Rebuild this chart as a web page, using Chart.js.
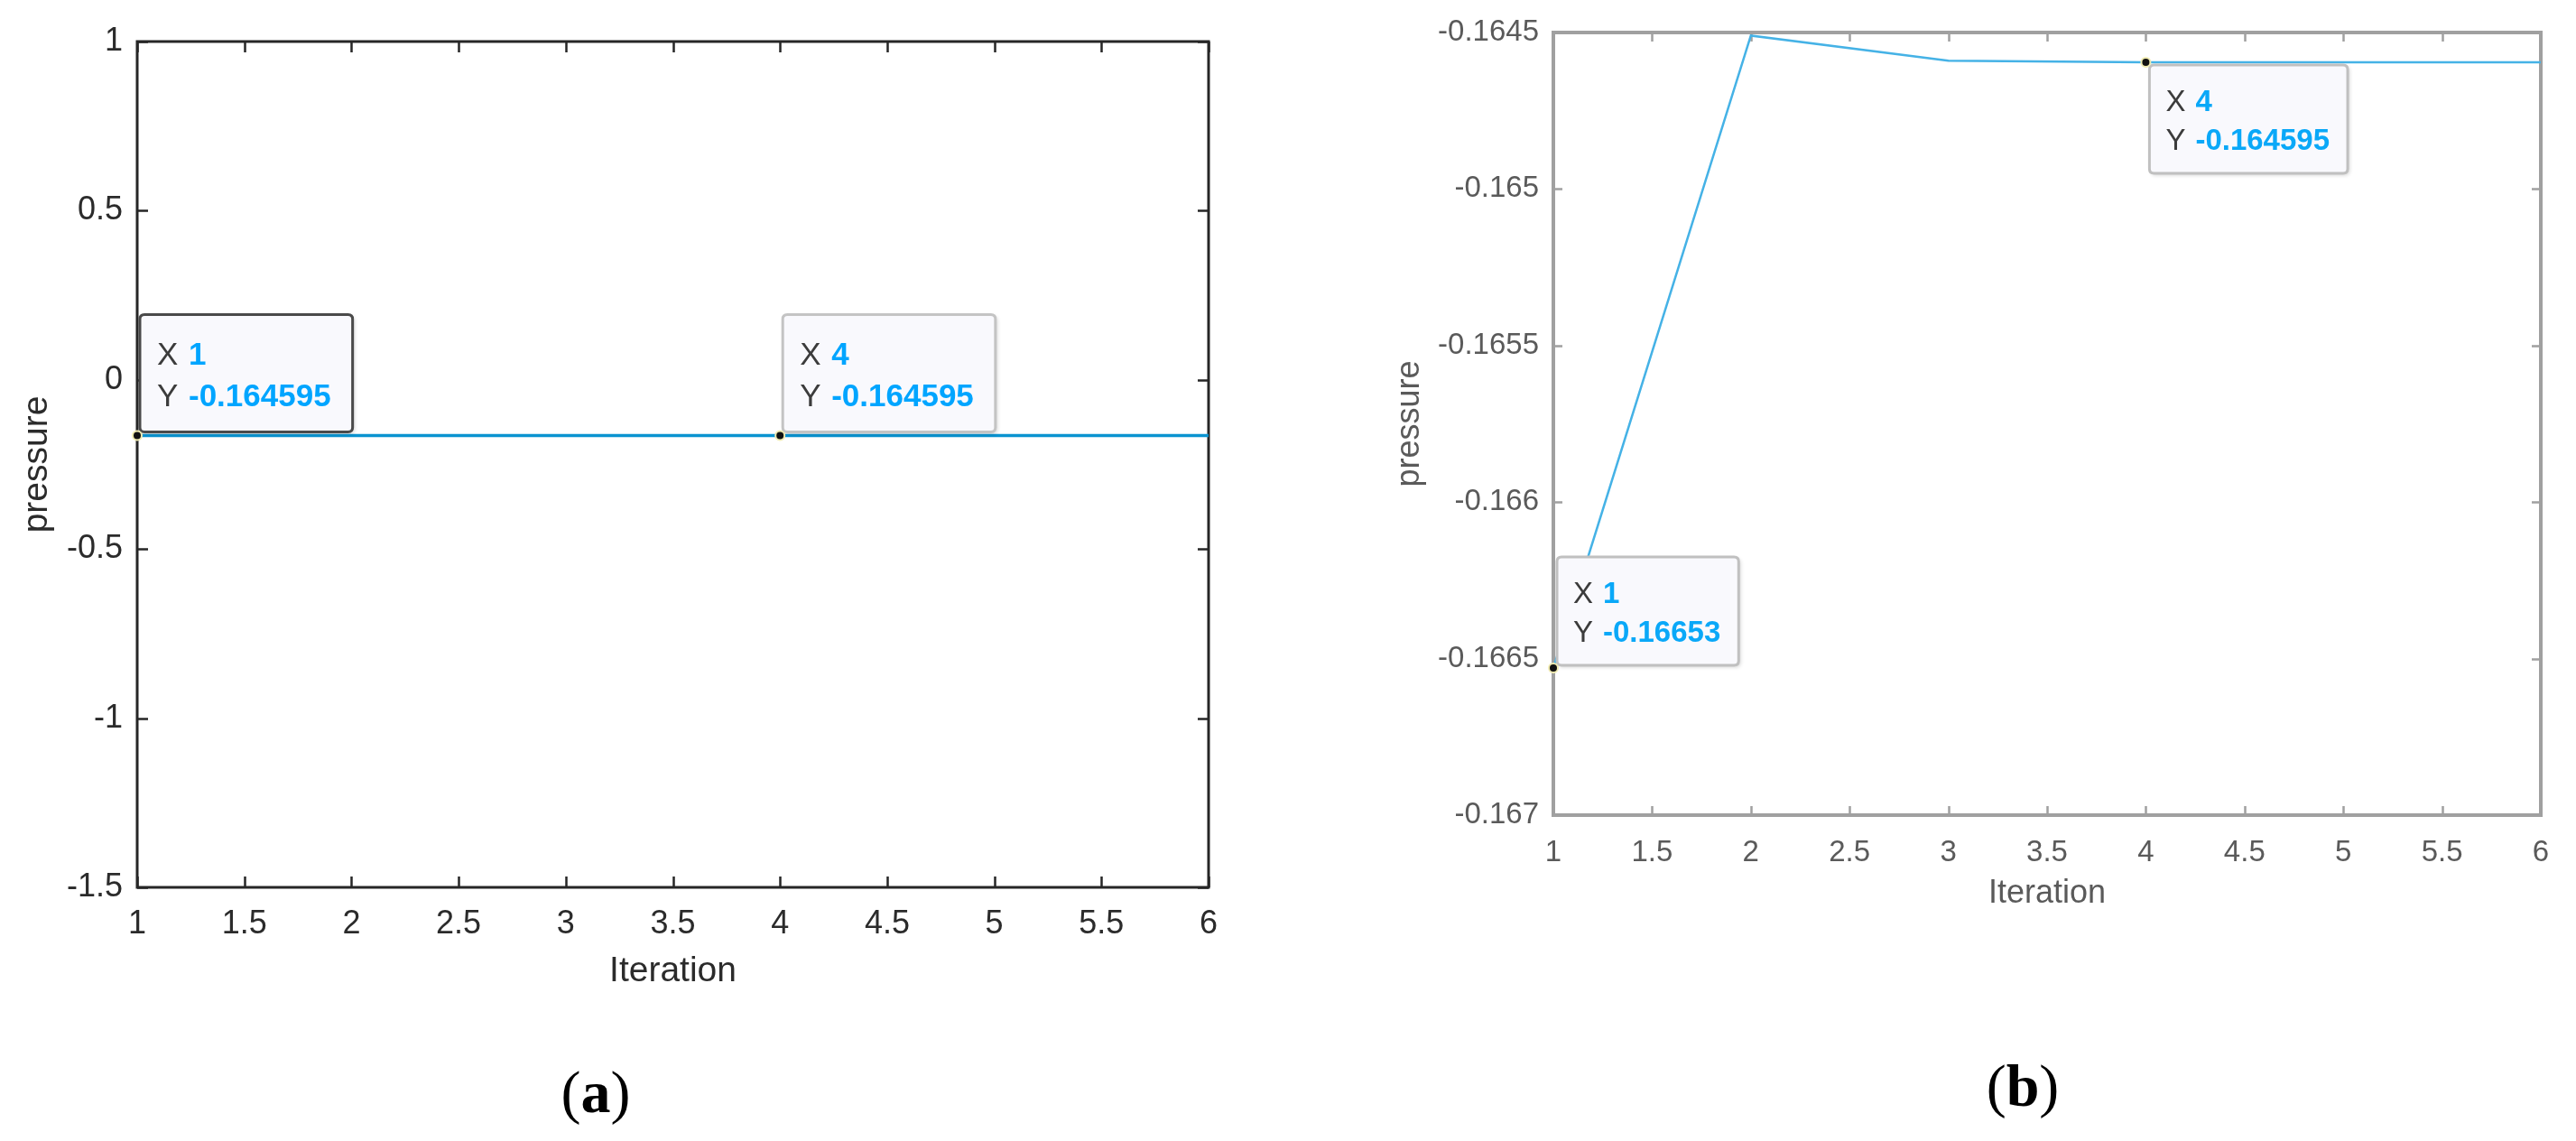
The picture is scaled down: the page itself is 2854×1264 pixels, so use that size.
<!DOCTYPE html>
<html><head><meta charset="utf-8">
<script src="https://cdn.jsdelivr.net/npm/chart.js@4.4.1/dist/chart.umd.min.js"></script>
<style>
html,body{margin:0;padding:0;background:#fff;width:2854px;height:1264px;overflow:hidden;position:relative}
canvas{position:absolute}
#ca{left:0;top:0}
#cb{left:1460px;top:0}
.lab{position:absolute;font-family:'Liberation Serif','DejaVu Serif',serif;font-size:66px;color:#000;transform:translate(-50%,-50%);white-space:nowrap;line-height:1}
.lab b{font-weight:bold}
</style></head><body>
<canvas id="ca" width="1420" height="1110"></canvas>
<canvas id="cb" width="1394" height="1030"></canvas>
<div class="lab" style="left:660px;top:1210px">(<b>a</b>)</div>
<div class="lab" style="left:2241px;top:1203px">(<b>b</b>)</div>
<script>
// ---- data ----
const iterations = [1, 2, 3, 4, 5, 6];
const pressureA = [-0.164595, -0.164595, -0.164595, -0.164595, -0.164595, -0.164595];
const pressureB = [-0.16653, -0.16451, -0.16459, -0.164595, -0.164595, -0.164595];
const xTicks = [1, 1.5, 2, 2.5, 3, 3.5, 4, 4.5, 5, 5.5, 6];
const yTicksA = [-1.5, -1, -0.5, 0, 0.5, 1];
const yTicksB = [-0.167, -0.1665, -0.166, -0.1655, -0.165, -0.1645];
const tipIndicesA = [0, 3];
const tipIndicesB = [0, 3];
const xTitle = 'Iteration';
const yTitle = 'pressure';

const FONT = "'Liberation Sans', Arial, Helvetica, sans-serif";
Chart.defaults.font.family = FONT;

const framePlugin = {
  id: 'frame',
  beforeDatasetsDraw(chart, args, o) {
    const {ctx, chartArea: a, scales: {x, y}} = chart;
    ctx.save();
    ctx.strokeStyle = o.color;
    ctx.lineWidth = o.tickWidth;
    ctx.beginPath();
    x.ticks.forEach(t => {
      const px = Math.round(x.getPixelForValue(t.value)) + 0.5;
      ctx.moveTo(px, a.bottom); ctx.lineTo(px, a.bottom - o.len);
      ctx.moveTo(px, a.top); ctx.lineTo(px, a.top + o.len);
    });
    y.ticks.forEach(t => {
      const py = Math.round(y.getPixelForValue(t.value)) + 0.5;
      ctx.moveTo(a.left, py); ctx.lineTo(a.left + o.len, py);
      ctx.moveTo(a.right, py); ctx.lineTo(a.right - o.len, py);
    });
    ctx.stroke();
    ctx.lineWidth = o.width;
    ctx.strokeRect(a.left, a.top, a.right - a.left, a.bottom - a.top);
    ctx.restore();
  }
};

function rr(ctx, x, y, w, h, r) {
  ctx.beginPath();
  ctx.moveTo(x + r, y);
  ctx.lineTo(x + w - r, y); ctx.quadraticCurveTo(x + w, y, x + w, y + r);
  ctx.lineTo(x + w, y + h - r); ctx.quadraticCurveTo(x + w, y + h, x + w - r, y + h);
  ctx.lineTo(x + r, y + h); ctx.quadraticCurveTo(x, y + h, x, y + h - r);
  ctx.lineTo(x, y + r); ctx.quadraticCurveTo(x, y, x + r, y);
  ctx.closePath();
}

const tipPlugin = {
  id: 'datatips',
  afterDatasetsDraw(chart, args, o) {
    const {ctx, scales: {x, y}} = chart;
    const ds = chart.data.datasets[0];
    o.tips.forEach(t => {
      const pt = ds.data[t.index];
      const px = x.getPixelForValue(pt.x), py = y.getPixelForValue(pt.y);
      const xs = String(pt.x), ysv = String(pt.y);
      ctx.save();
      ctx.font = 'bold ' + o.size + 'px ' + FONT;
      const vw = Math.max(ctx.measureText(xs).width, ctx.measureText(ysv).width);
      const w = o.valueOff + vw + o.rightPad;
      const left = px + o.dx;
      const top = t.below ? py + o.gap : py - o.gap - o.h;
      ctx.shadowColor = 'rgba(0,0,0,0.18)';
      ctx.shadowBlur = 4; ctx.shadowOffsetX = 2; ctx.shadowOffsetY = 2;
      rr(ctx, left, top, w, o.h, 5);
      ctx.fillStyle = '#f9f9fd';
      ctx.fill();
      ctx.shadowColor = 'transparent';
      ctx.lineWidth = o.borderWidth;
      ctx.strokeStyle = t.border;
      ctx.stroke();
      ctx.textBaseline = 'middle';
      ctx.textAlign = 'left';
      ctx.font = o.size + 'px ' + FONT;
      ctx.fillStyle = '#3c3c3c';
      ctx.fillText('X', left + o.textOff, top + o.l1);
      ctx.fillText('Y', left + o.textOff, top + o.l2);
      ctx.font = 'bold ' + o.size + 'px ' + FONT;
      ctx.fillStyle = o.valueColor;
      ctx.fillText(xs, left + o.valueOff, top + o.l1);
      ctx.fillText(ysv, left + o.valueOff, top + o.l2);
      ctx.beginPath();
      ctx.arc(px, py, 5, 0, Math.PI * 2);
      ctx.fillStyle = '#111';
      ctx.fill();
      ctx.lineWidth = 2;
      ctx.strokeStyle = '#efeab0';
      ctx.stroke();
      ctx.restore();
    });
  }
};

function makeChart(id, values, yTicks, cfg) {
  const pts = iterations.map((v, i) => ({x: v, y: values[i]}));
  return new Chart(document.getElementById(id), {
    type: 'line',
    data: {datasets: [{data: pts, borderColor: cfg.lineColor, borderWidth: cfg.lineWidth,
      pointRadius: 0, fill: false, tension: 0}]},
    options: {
      responsive: false, animation: false, devicePixelRatio: 1,
      layout: {padding: cfg.padding},
      plugins: {
        legend: {display: false}, tooltip: {enabled: false},
        frame: cfg.frame,
        datatips: cfg.tips
      },
      scales: {
        x: {
          type: 'linear', min: 1, max: 6,
          afterBuildTicks: s => { s.ticks = xTicks.map(v => ({value: v})); },
          afterFit: s => { s.height = cfg.xHeight; },
          grid: {display: false, drawTicks: false},
          border: {display: false},
          ticks: {color: cfg.tickColor, font: {size: cfg.tickSize}, padding: cfg.xTickPad,
            maxRotation: 0, autoSkip: false, callback: v => String(v)},
          title: {display: true, text: xTitle, color: cfg.tickColor,
            font: {size: cfg.titleSize}, padding: {top: 0, bottom: cfg.xTitlePad}}
        },
        y: {
          type: 'linear', min: yTicks[0], max: yTicks[yTicks.length - 1],
          afterBuildTicks: s => { s.ticks = yTicks.map(v => ({value: v})); },
          afterFit: s => { s.width = cfg.yWidth; },
          grid: {display: false, drawTicks: false},
          border: {display: false},
          ticks: {color: cfg.tickColor, font: {size: cfg.tickSize}, padding: cfg.yTickPad,
            autoSkip: false, callback: v => String(v)},
          title: {display: true, text: yTitle, color: cfg.tickColor,
            font: {size: cfg.titleSize}, padding: {top: cfg.yTitlePad, bottom: 0}}
        }
      }
    },
    plugins: [framePlugin, tipPlugin]
  });
}

makeChart('ca', pressureA, yTicksA, {
  lineColor: '#0a93d0', lineWidth: 3.5,
  padding: {left: 0, top: 46, right: 81, bottom: 0},
  xHeight: 127, yWidth: 152,
  tickColor: '#2b2b2b', tickSize: 36, titleSize: 39,
  xTickPad: 19, yTickPad: 16, xTitlePad: 10, yTitlePad: 18,
  frame: {color: '#262626', width: 3, tickWidth: 2.5, len: 12},
  tips: {size: 35, h: 130, dx: 3, gap: 4, textOff: 19, valueOff: 54, rightPad: 24,
    l1: 46, l2: 92, borderWidth: 3, valueColor: '#00a5ff',
    tips: [{index: tipIndicesA[0], below: false, border: '#4a4a4a'},
           {index: tipIndicesA[1], below: false, border: '#c4c4c4'}]}
});

makeChart('cb', pressureB, yTicksB, {
  lineColor: '#45b2e6', lineWidth: 2.5,
  padding: {left: 60, top: 36, right: 39, bottom: 0},
  xHeight: 127, yWidth: 201,
  tickColor: '#5a5a5a', tickSize: 33, titleSize: 36,
  xTickPad: 22, yTickPad: 16, xTitlePad: 18, yTitlePad: 20,
  frame: {color: '#a0a0a0', width: 4, tickWidth: 2.5, len: 10},
  tips: {size: 33, h: 120, dx: 4, gap: 3, textOff: 18, valueOff: 51, rightPad: 20,
    l1: 42, l2: 85, borderWidth: 3, valueColor: '#0aa8f8',
    tips: [{index: tipIndicesB[0], below: false, border: '#c0c0c0'},
           {index: tipIndicesB[1], below: true, border: '#c0c0c0'}]}
});
</script>
</body></html>
